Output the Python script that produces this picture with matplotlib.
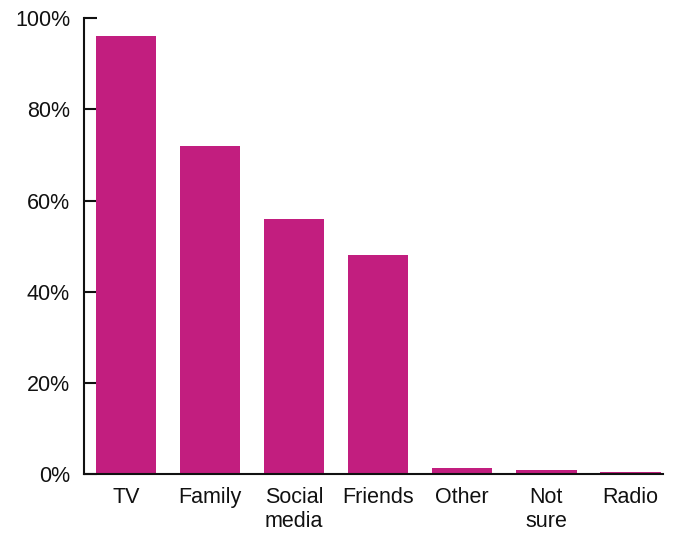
import matplotlib
matplotlib.use("Agg")
import matplotlib.pyplot as plt
from matplotlib.ticker import FuncFormatter

categories = ["TV", "Family", "Social\nmedia", "Friends", "Other", "Not\nsure", "Radio"]
values = [96, 72, 56, 48, 1.3, 0.8, 0.5]
y_ticks = [0, 20, 40, 60, 80, 100]

BAR_COLOR = "#C21E7F"

plt.rcParams.update({
    "font.family": ["Liberation Sans", "DejaVu Sans"],
    "font.size": 15.5,
})

fig = plt.figure(figsize=(6.75, 5.35), dpi=100)
ax = fig.add_axes([0.1244, 0.114, 0.858, 0.852])

x = list(range(len(categories)))
ax.bar(x, values, width=0.72, color=BAR_COLOR, zorder=2)

ax.set_xlim(-0.5, 6.39)
ax.set_ylim(0, 100)
ax.set_yticks(y_ticks)
ax.yaxis.set_major_formatter(FuncFormatter(lambda v, _: f"{v:.0f}%"))
ax.set_xticks(x)
ax.set_xticklabels(categories, va="top", linespacing=1.2)

for side in ("top", "right"):
    ax.spines[side].set_visible(False)
for side in ("left", "bottom"):
    ax.spines[side].set_linewidth(1.5)
    ax.spines[side].set_color("#111111")

ax.tick_params(axis="y", direction="in", length=9, width=1.5, pad=10,
               labelsize=15.5, colors="#111111")
ax.tick_params(axis="x", length=0, pad=9, labelsize=15.5, colors="#111111")

fig.savefig("out.png", dpi=100)
